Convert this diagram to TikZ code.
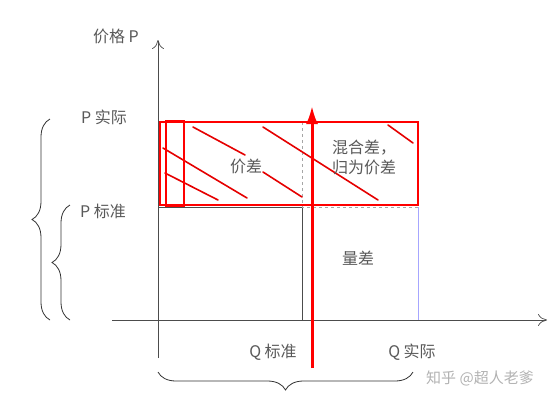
\documentclass[tikz,border=0pt]{standalone}
\usepackage{fontspec}
\setmainfont{Noto Sans CJK SC}
\usetikzlibrary{arrows.meta,decorations.pathreplacing}
\begin{document}
\begin{tikzpicture}[x=1pt, y=-1pt, >=latex,
    lbl/.style={text=black!65, font=\fontsize{16}{20}\selectfont},
    hatch/.style={red!90!black, line width=1.6pt, line cap=round},
    brc/.style={decorate, decoration={brace, amplitude=18pt}, black!80, line width=0.8pt}]
\useasboundingbox (0,0) rectangle (549,400);
% axes
\coordinate (O) at (158,320);
\draw[-{To[length=9pt,width=12pt]}, black!70, line width=0.7pt] (112,320) -- (547,320);
\draw[-{To[length=9pt,width=12pt]}, black!70, line width=0.7pt] (158,358) -- (158,40);
% standard rectangle and actual quantity
\draw[black!70, line width=0.7pt] (158,207) -| (302,320);
\draw[black!35, dashed, line width=0.5pt] (302,122) -- (302,207) -- (418,207);
\draw[blue!35, line width=0.7pt] (418,207) -- (418,320);
% price difference area
\foreach \xa/\ya/\xb/\yb in {193/127/245/155, 263/127/378/200, 163/148/247/198, 165/173/218/200, 263/172/302/197, 388/125/413/143}
  \draw[hatch] (\xa,\ya) -- (\xb,\yb);
\draw[red, line width=2.2pt] (160,122) rectangle (418,205);
\draw[red, line width=2.2pt] (166,121) rectangle (184,206);
\draw[-{Latex[length=18pt,width=12pt]}, red, line width=3pt] (312,368) -- (312,106);
% labels
\node[lbl] (axp) at (116,36) {价格 P};
\node[lbl] (pact) at (104,117) {P 实际};
\node[lbl] (pstd) at (103,211) {P 标准};
\node[lbl] (pdiff) at (246,166) {价差};
\node[lbl, align=left] (mix) at (364,157) {混合差，\\归为价差};
\node[lbl] (qdiff) at (358,258) {量差};
\node[lbl] (qstd) at (273,352) {Q 标准};
\node[lbl] (qact) at (412,352) {Q 实际};
\node[text=black!30, font=\fontsize{15}{18}\selectfont] (mark) at (480,378) {知乎 @超人老爹};
% braces
\draw[brc] (50,320) -- (50,119);
\draw[brc] (70,320) -- (70,205);
\draw[brc] (413,372) -- (158,372);
\end{tikzpicture}
\end{document}
